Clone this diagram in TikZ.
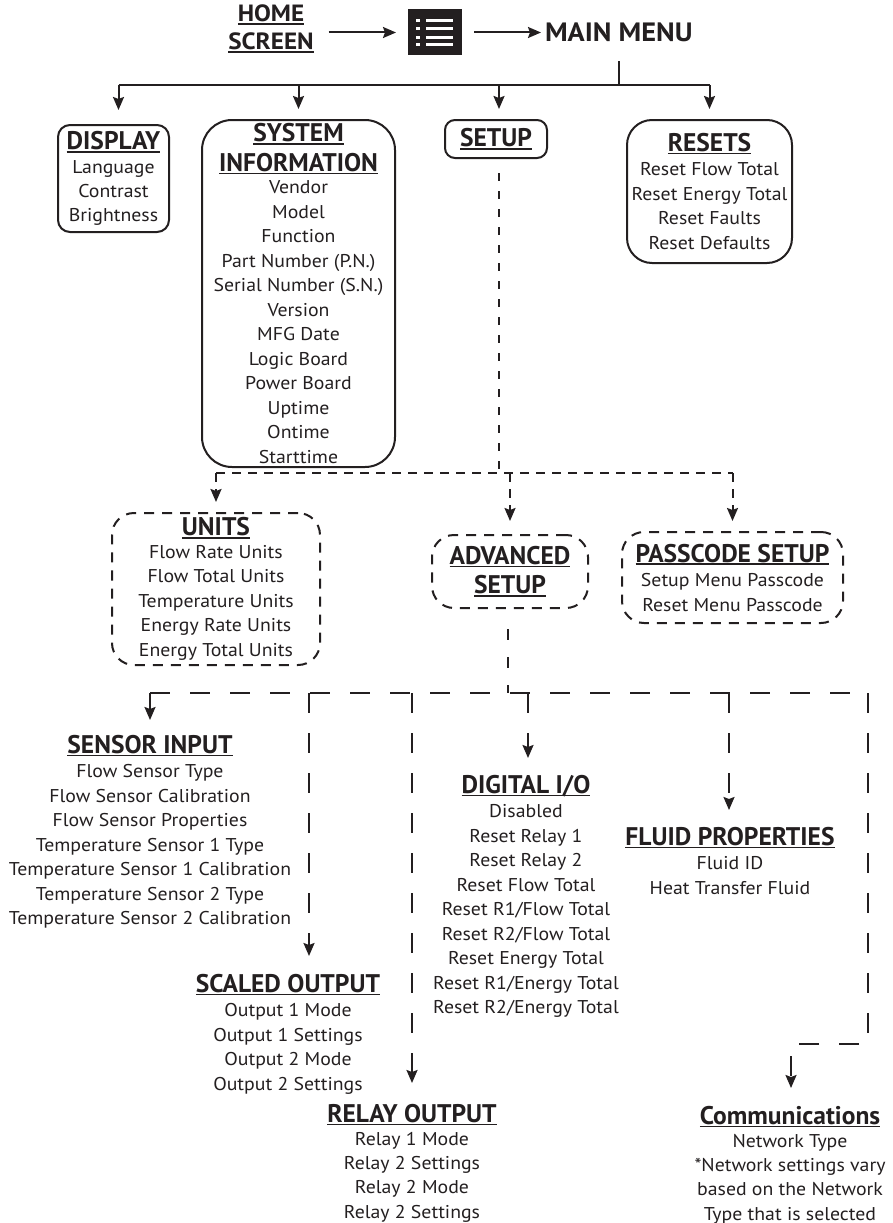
\documentclass[tikz,border=0pt]{standalone}
\usepackage{fontspec}
\setmainfont{PT Sans}[FakeStretch=1.07]
\newfontfamily\hdfont{PT Sans}
\newfontfamily\bigfont{PT Sans}[FakeStretch=1.07]
\usepackage{xcolor}
\usepackage{tikz}
\usetikzlibrary{positioning, arrows.meta}

\definecolor{ink}{HTML}{231F20}
% underlined heading
\newcommand{\ulin}[1]{\setbox0\hbox{#1}\rlap{\rule[-3pt]{\wd0}{1.6pt}}\box0}
\newcommand{\hd}[1]{{\hdfont\bfseries\fontsize{25.5}{26}\selectfont\ulin{#1}}}

\begin{document}
\begin{tikzpicture}[x=1pt, y=-1pt, line width=2pt, draw=ink, text=ink,
    >={Stealth[length=13pt,width=11pt,inset=2pt]},
    txt/.style={align=center, inner sep=0pt, font=\fontsize{18.5}{24.5}\selectfont},
    sbox/.style={txt, draw, rounded corners=#1},
    dbox/.style={txt, draw, rounded corners=#1, dash pattern=on 10pt off 8pt},
    dashA/.style={dash pattern=on 9pt off 7pt},
    dashS/.style={dash pattern=on 8pt off 10pt},
    dashB/.style={dash pattern=on 20pt off 20pt},
    menuicon/.style={fill=ink, minimum width=54pt, minimum height=46pt, inner sep=0pt,
      path picture={
        \foreach \r in {-12,-4,5,12} {
          \fill[white] ([shift={(-19,\r-1.5)}]path picture bounding box.center) rectangle ++(4,3);
          \draw[white, line width=3pt] ([shift={(-9,\r)}]path picture bounding box.center)
            -- ([shift={(18,\r)}]path picture bounding box.center);
        }}}]
  \useasboundingbox (0,0) rectangle (892,1223);

  % top row
  \node[txt, font=\bigfont\bfseries\fontsize{23.5}{28}\selectfont] (home) at (271,29) {\ulin{HOME}\\\ulin{SCREEN}};
  \node[menuicon] (icon) at (435,32.5) {};
  \node[txt, font=\bigfont\bfseries\fontsize{26.5}{30}\selectfont] (mainmenu) [right=81pt of icon] {MAIN MENU};

  \draw[->, shorten <=14pt, shorten >=11pt] (home.east |- icon) -- (icon);
  \draw[->, shorten <=11pt, shorten >=3pt] (icon) -- (mainmenu);

  % main menu
  \node[sbox=12pt, minimum width=111pt, minimum height=107pt, font=\fontsize{18.5}{24}\selectfont] (disp) at (113.5,178.5)
    {\hd{DISPLAY}\\Language\\Contrast\\Brightness};
  \node[sbox=30pt, minimum width=193pt, minimum height=347pt] (sysinfo) at (298.5,293.5)
    {\hd{SYSTEM}\\[5pt]\hd{INFORMATION}\\[-2pt]Vendor\\Model\\Function\\Part Number (P.N.)\\Serial Number (S.N.)\\Version\\MFG Date\\Logic Board\\Power Board\\Uptime\\Ontime\\Starttime};
  \node[sbox=10pt, minimum width=102pt, minimum height=38pt] (setup) at (496,139) {\hd{SETUP}};
  \node[sbox=25pt, minimum width=165pt, minimum height=143pt] (res) at (709.5,191.5)
    {\hd{RESETS}\\Reset Flow Total\\Reset Energy Total\\Reset Faults\\Reset Defaults};

  \coordinate (bus) at (614,85);
  \draw[shorten <=18pt] (mainmenu.south) -- (mainmenu.south |- bus);
  \draw ([xshift=5pt]disp.north |- bus) -- (res.north |- bus);
  \foreach \n/\s/\g in {disp/5/14, sysinfo/0/10, setup/3/10, res/0/10}
    \draw[->, shorten >=\g pt] ([xshift=\s pt]\n.north |- bus) -- ([xshift=\s pt]\n.north);

  % setup menu
  \node[dbox=22pt, minimum width=208pt, minimum height=152pt] (units) at (216,589)
    {\hd{UNITS}\\[-2pt]Flow Rate Units\\Flow Total Units\\Temperature Units\\Energy Rate Units\\Energy Total Units};
  \node[dbox=22pt, minimum width=156pt, minimum height=73pt] (adv) at (510,571.5)
    {\hd{ADVANCED}\\[5pt]\hd{SETUP}};
  \node[dbox=22pt, minimum width=221pt, minimum height=91pt] (pass) at (732.5,577.5)
    {\hd{PASSCODE SETUP}\\Setup Menu Passcode\\Reset Menu Passcode};

  \coordinate (sbus) at (499,473);
  \draw[dashS, shorten <=14pt] ([xshift=3pt]setup.south) -- ([xshift=3pt]setup.south |- sbus);
  \draw[dashA] (units.north |- sbus) -- (pass.north |- sbus);
  \foreach \n/\g in {units/10, adv/13, pass/10}
    \draw[dashA, ->, shorten >=\g pt] (\n.north |- sbus) -- (\n.north);

  % advanced setup menu
  \node[txt, anchor=north] (sensor) at (150,734)
    {\hd{SENSOR INPUT}\\Flow Sensor Type\\Flow Sensor Calibration\\Flow Sensor Properties\\Temperature Sensor 1 Type\\Temperature Sensor 1 Calibration\\Temperature Sensor 2 Type\\Temperature Sensor 2 Calibration};
  \node[txt, anchor=north] (scaled) at (288,973)
    {\hd{SCALED OUTPUT}\\Output 1 Mode\\Output 1 Settings\\Output 2 Mode\\Output 2 Settings};
  \node[txt, anchor=north, font=\fontsize{18.5}{24.2}\selectfont] (relay) at (412,1103)
    {\hd{RELAY OUTPUT}\\[-1pt]Relay 1 Mode\\Relay 2 Settings\\Relay 2 Mode\\Relay 2 Settings};
  \node[txt, anchor=north] (digital) at (526,774)
    {\hd{DIGITAL I/O}\\Disabled\\Reset Relay 1\\Reset Relay 2\\Reset Flow Total\\Reset R1/Flow Total\\Reset R2/Flow Total\\Reset Energy Total\\Reset R1/Energy Total\\Reset R2/Energy Total};
  \node[txt, anchor=north] (fluid) at (730,826)
    {\hd{FLUID PROPERTIES}\\Fluid ID\\Heat Transfer Fluid};
  \node[txt, anchor=north, font=\fontsize{18.5}{24.2}\selectfont] (comms) at (790,1105)
    {\hd{Communications}\\[-1pt]Network Type\\*Network settings vary\\based on the Network\\Type that is selected};

  \coordinate (abus) at (508,693);
  \coordinate (rc) at (868,693);
  \coordinate (cbend) at (868,1044);
  \draw[dash pattern=on 11pt off 17pt, shorten <=20pt] (adv.south -| abus) -- (abus);
  \draw[dashB] (sensor.north |- abus) -- (rc);
  \foreach \n/\s/\g in {sensor/0/14, scaled/21/17, relay/0/20, digital/2/16, fluid/-1/16}
    \draw[dashB, ->, shorten >=\g pt] ([xshift=\s pt]\n.north |- abus) -- ([xshift=\s pt]\n.north);
  \draw[dashB, ->, shorten >=17pt] (rc) |- ([xshift=1pt]comms.north |- cbend) -- ([xshift=1pt]comms.north);
\end{tikzpicture}
\end{document}
